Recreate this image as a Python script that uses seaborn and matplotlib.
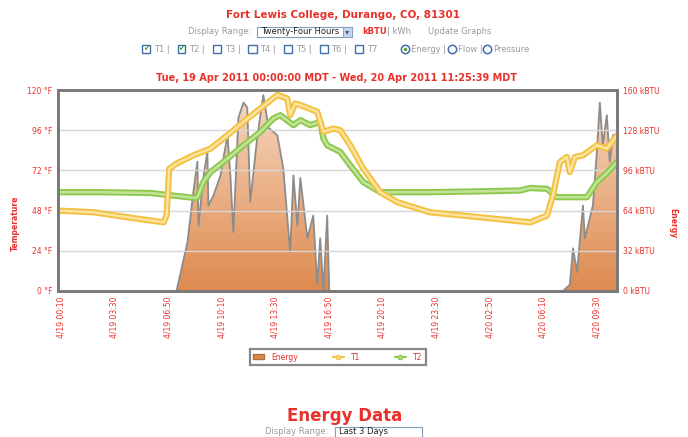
import numpy as np
import pandas as pd
import matplotlib
matplotlib.use("Agg")
import matplotlib.pyplot as plt
from matplotlib.patches import Rectangle
from matplotlib.lines import Line2D
import seaborn as sns

# minutes since 4/19 00:00 MDT
T1_MIN = [0, 133, 260, 394, 405, 415, 441, 505, 569, 632, 692, 755, 818, 855, 866, 885, 904,
          967, 990, 1027, 1053, 1090, 1139, 1202, 1266, 1388, 1575, 1761, 1824, 1846, 1872,
          1898, 1909, 1928, 1958, 2010, 2047, 2085]
T1_VAL = [48, 47, 44, 41, 45, 73, 76, 81, 85, 93, 101, 109, 117, 115, 105, 112, 111,
          107, 95, 97, 96, 87, 73, 59, 53, 47, 44, 41, 45, 57, 77,
          80, 71, 80, 81, 87, 85, 93]

T2_MIN = [0, 159, 345, 513, 520, 542, 569, 632, 692, 755, 803, 829, 878, 904, 941, 978, 990,
          1004, 1053, 1090, 1139, 1202, 1388, 1575, 1724, 1761, 1824, 1861, 1973, 2010, 2051, 2085]
T2_VAL = [59, 59, 58.5, 55.5, 56, 65, 71, 79, 87, 95, 103, 105, 99, 102, 99, 101, 91,
          87, 83, 75, 65, 59, 59, 59.5, 60, 61.5, 61, 56, 56, 65, 71, 77]

E_MIN = [0, 442, 483, 505, 520, 524, 542, 557, 561, 580, 606, 632, 643, 654, 673, 692, 706,
         717, 744, 766, 785, 818, 840, 866, 878, 893, 904, 930, 952, 967, 978, 990, 1004,
         1012, 1883, 1909, 1921, 1936, 1958, 1965, 1995, 2010, 2021, 2032, 2047, 2058, 2070, 2085]
E_VAL = [0, 0, 39, 79, 103, 52, 90, 111, 68, 76, 92, 124, 92, 47, 138, 150, 146,
         71, 124, 156, 130, 124, 98, 31, 92, 52, 90, 42, 60, 5, 42, 0, 60,
         0, 0, 5, 34, 15, 68, 42, 68, 111, 150, 116, 140, 103, 124, 124]

TICK_MIN = [10, 210, 410, 610, 810, 1010, 1210, 1410, 1610, 1810, 2010]
TICK_LABELS = ["4/19 00:10", "4/19 03:30", "4/19 06:50", "4/19 10:10", "4/19 13:30",
               "4/19 16:50", "4/19 20:10", "4/19 23:30", "4/20 02:50", "4/20 06:10",
               "4/20 09:30"]
TEMP_TICKS = [0, 24, 48, 72, 96, 120]
ENERGY_TICKS = [0, 32, 64, 96, 128, 160]

RED = "#e8312a"
GRAY_TXT = "#9a9a9a"
YELLOW = "#f3c040"
GREEN = "#8cc84b"

W, H = 688, 437


def px(x, y):
    return x / W, 1 - y / H


def main():
    sns.set_theme(style="white")
    plt.rcParams["font.family"] = ["DejaVu Sans"]

    fig = plt.figure(figsize=(W / 100, H / 100), dpi=100)
    l, b = px(58, 291)
    r, t = px(617, 90)
    ax = fig.add_axes([l, b, r - l, t - b])
    ax2 = ax.twinx()

    # energy on right axis with gradient fill
    e_df = pd.DataFrame({"minute": E_MIN, "energy": E_VAL})
    ax2.set_ylim(0, 160)
    ax2.set_xlim(0, 2085)
    poly = ax2.fill_between(e_df["minute"], e_df["energy"], 0, color="none", lw=0)
    grad = np.linspace(1, 0, 256).reshape(-1, 1)
    cmap = matplotlib.colors.LinearSegmentedColormap.from_list("o", ["#f7d9c2", "#de8a4f"])
    img = ax2.imshow(grad, cmap=cmap, aspect="auto", extent=[0, 2085, 160, 0], zorder=1,
                     vmin=0, vmax=1, origin="upper")
    img.set_clip_path(poly.get_paths()[0], transform=ax2.transData)
    sns.lineplot(data=e_df, x="minute", y="energy", ax=ax2, color="#8c8c8c", lw=1.3,
                 zorder=2, legend=False)
    ax2.set_ylim(0, 160)
    ax2.set_xlim(0, 2085)

    # temperatures on top
    ax.set_zorder(ax2.get_zorder() + 1)
    ax.patch.set_visible(False)
    t1 = pd.DataFrame({"minute": T1_MIN, "temp": T1_VAL})
    t2 = pd.DataFrame({"minute": T2_MIN, "temp": T2_VAL})
    for df, c, lc in [(t2, GREEN, "#c3e39c"), (t1, YELLOW, "#fbe3a0")]:
        sns.lineplot(data=df, x="minute", y="temp", ax=ax, color=c, lw=4.5, legend=False)
        sns.lineplot(data=df, x="minute", y="temp", ax=ax, color=lc, lw=1.8, legend=False)
    ax.set_ylim(0, 120)
    ax.set_xlim(0, 2085)
    ax.set_yticks(TEMP_TICKS)
    ax.set_yticklabels([f"{v} °F" for v in TEMP_TICKS])
    ax.set_xticks(TICK_MIN)
    ax.set_xticklabels(TICK_LABELS, rotation=90)
    ax.grid(axis="y", color="#d6d6d6", lw=1)
    ax.grid(axis="x", visible=False)
    ax.set_xlabel("")
    ax.set_ylabel("")
    ax2.set_yticks(ENERGY_TICKS)
    ax2.set_yticklabels([f"{v} kBTU" for v in ENERGY_TICKS])
    ax2.set_xlabel("")
    ax2.set_ylabel("")
    ax2.grid(False)
    for a in (ax, ax2):
        a.tick_params(labelsize=5.5, labelcolor=RED, length=0, pad=4)
        for s in a.spines.values():
            s.set_color("#7a7a7a")
            s.set_linewidth(2)

    fig.text(*px(15, 223), "Temperature", color=RED, fontsize=5.5, fontweight="bold",
             rotation=90, ha="center", va="center")
    fig.text(*px(673, 223), "Energy", color=RED, fontsize=5.5, fontweight="bold",
             rotation=270, ha="center", va="center")

    # header
    fig.text(*px(343, 15), "Fort Lewis College, Durango, CO, 81301", color=RED,
             fontsize=7.5, fontweight="bold", ha="center", va="center")
    fig.text(*px(188, 32), "Display Range:", color=GRAY_TXT, fontsize=6, ha="left", va="center")
    x0, y0 = px(257, 37)
    x1, y1 = px(352, 27)
    fig.patches.append(Rectangle((x0, y0), x1 - x0, y1 - y0, transform=fig.transFigure,
                                 facecolor="white", edgecolor="#7f9db9", lw=0.8))
    xa, _ = px(343, 0)
    fig.patches.append(Rectangle((xa, y0), x1 - xa, y1 - y0, transform=fig.transFigure,
                                 facecolor="#c5d5ee", edgecolor="#7f9db9", lw=0.6))
    fig.text(*px(347.5, 32), "▾", color="#4d6185", fontsize=6, ha="center", va="center")
    fig.text(*px(261, 32), "Twenty-Four Hours", color="#222222", fontsize=6, ha="left",
             va="center")
    fig.text(*px(362, 32), "kBTU", color=RED, fontsize=6, fontweight="bold", ha="left",
             va="center")
    fig.text(*px(387, 32), "| kWh", color=GRAY_TXT, fontsize=6, ha="left", va="center")
    fig.text(*px(428, 32), "Update Graphs", color=GRAY_TXT, fontsize=6, ha="left",
             va="center")

    boxes = ["T1", "T2", "T3", "T4", "T5", "T6", "T7"]
    for i, name in enumerate(boxes):
        bx = 142 + 35.5 * i
        cx0, cy0 = px(bx, 53)
        cx1, cy1 = px(bx + 8, 45)
        fig.patches.append(Rectangle((cx0, cy0), cx1 - cx0, cy1 - cy0,
                                     transform=fig.transFigure, facecolor="white",
                                     edgecolor="#3f6fa8", lw=1.0))
        if i < 2:
            fig.text(*px(bx + 4, 49), "✔", color="#4aa339", fontsize=5.5, ha="center",
                     va="center")
        label = f"{name} |" if i < 6 else name
        fig.text(*px(bx + 12, 49), label, color=GRAY_TXT, fontsize=6, ha="left", va="center")

    radios = [(405, "Energy |"), (452, "Flow |"), (487, "Pressure")]
    for i, (rx, name) in enumerate(radios):
        cx, cy = px(rx, 49)
        fig.add_artist(Line2D([cx], [cy], transform=fig.transFigure, marker="o",
                              markersize=6, markerfacecolor="white",
                              markeredgecolor="#3f6fa8", markeredgewidth=1.1, ls="none"))
        if i == 0:
            fig.add_artist(Line2D([cx], [cy], transform=fig.transFigure, marker="o",
                                  markersize=2.5, markerfacecolor="#4aa339",
                                  markeredgecolor="none", ls="none"))
        fig.text(*px(rx + 6, 49), name, color=GRAY_TXT, fontsize=6, ha="left", va="center")

    fig.text(*px(337, 78), "Tue, 19 Apr 2011 00:00:00 MDT - Wed, 20 Apr 2011 11:25:39 MDT",
             color=RED, fontsize=7, fontweight="bold", ha="center", va="center")

    # legend
    handles = [
        Rectangle((0, 0), 1, 1, facecolor="#e08a4a", edgecolor="#b0703a"),
        Line2D([], [], color=YELLOW, lw=1.5, marker="o", markersize=3,
               markerfacecolor="#fbe3a0"),
        Line2D([], [], color=GREEN, lw=1.5, marker="o", markersize=3,
               markerfacecolor="#c3e39c"),
    ]
    leg = fig.legend(handles, ["Energy", "T1", "T2"], loc="center",
                     bbox_to_anchor=px(338, 357), ncol=3, fontsize=5.5, labelcolor=RED,
                     frameon=True, fancybox=False, shadow=False, edgecolor="#6a6a6a",
                     columnspacing=4.5, handlelength=1.4, handleheight=0.6,
                     borderpad=0.5, handletextpad=1.0)
    leg.get_frame().set_linewidth(1.6)

    # footer
    fig.text(*px(345, 416), "Energy Data", color=RED, fontsize=12, fontweight="bold",
             ha="center", va="center")
    fig.text(*px(265, 432), "Display Range:", color=GRAY_TXT, fontsize=6, ha="left",
             va="center")
    dx0, dy0 = px(335, 446)
    dx1, dy1 = px(422, 427)
    fig.patches.append(Rectangle((dx0, dy0), dx1 - dx0, dy1 - dy0, transform=fig.transFigure,
                                 facecolor="white", edgecolor="#7f9db9", lw=0.8,
                                 clip_on=False))
    fig.text(*px(339, 432), "Last 3 Days", color="#222222", fontsize=6, ha="left",
             va="center")

    fig.savefig("out.png", dpi=100)
    plt.close(fig)


if __name__ == "__main__":
    main()
